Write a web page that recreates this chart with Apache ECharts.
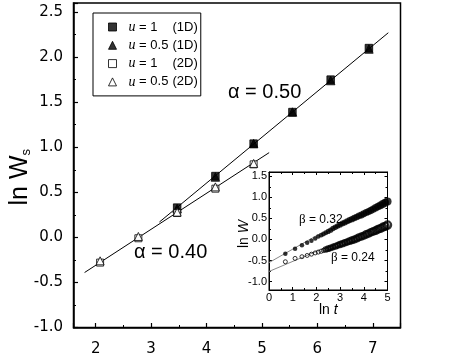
<!DOCTYPE html>
<html><head><meta charset="utf-8">
<script src="https://cdn.jsdelivr.net/npm/echarts@6/dist/echarts.min.js"></script>
<style>html,body{margin:0;padding:0;background:#fff}#c{width:474px;height:356px}</style>
</head><body><div id="c"></div>
<script>
// ---- main panel data (ln L vs ln W_s) ----
const lnL1D = [3.47, 4.16, 4.85, 5.55, 6.24, 6.93];
const u1_1D = [0.33, 0.68, 1.04, 1.39, 1.75, 2.10];
const u05_1D = [0.32, 0.67, 1.04, 1.39, 1.74, 2.09];
const lnL2D = [2.08, 2.77, 3.47, 4.16, 4.85];
const u1_2D = [-0.28, -0.01, 0.27, 0.54, 0.81];
const u05_2D = [-0.26, 0.01, 0.28, 0.56, 0.82];
const fit050X = [3.15, 7.28];
const fit050Y = [0.17, 2.27];
const fit040X = [1.80, 5.13];
const fit040Y = [-0.39, 0.94];
const seriesNames = ['u = 1 (1D)', 'u = 0.5 (1D)', 'u = 1 (2D)', 'u = 0.5 (2D)'];
const mainXTicks = [2, 3, 4, 5, 6, 7];
const mainYTicks = [-1.0, -0.5, 0.0, 0.5, 1.0, 1.5, 2.0, 2.5];

// ---- inset data (ln t vs ln W) ----
const lnT = [0.69, 1.10, 1.39, 1.61, 1.79, 1.95, 2.08, 2.20, 2.30, 2.40, 2.50, 2.60, 2.70, 2.80, 2.90,
  3.00, 3.10, 3.20, 3.30, 3.40, 3.50, 3.60, 3.70, 3.80, 3.90, 4.00, 4.10, 4.20, 4.30, 4.40,
  4.50, 4.60, 4.70, 4.80, 4.90, 5.00];
const lnW1D = [-0.34, -0.22, -0.14, -0.08, -0.03, 0.02, 0.07, 0.10, 0.13, 0.16, 0.19, 0.22, 0.26, 0.29, 0.32,
  0.35, 0.38, 0.40, 0.43, 0.46, 0.48, 0.51, 0.53, 0.56, 0.58, 0.61, 0.64, 0.66, 0.69, 0.72,
  0.75, 0.78, 0.81, 0.84, 0.87, 0.90];
const lnW2D = [-0.53, -0.45, -0.41, -0.38, -0.35, -0.32, -0.30, -0.28, -0.26, -0.24, -0.22, -0.20, -0.18, -0.16, -0.14,
  -0.12, -0.10, -0.08, -0.06, -0.04, -0.02, 0.00, 0.02, 0.05, 0.07, 0.09, 0.12, 0.14, 0.17, 0.19,
  0.21, 0.24, 0.26, 0.29, 0.31, 0.34];
const fitB032X = [0, 2.1];
const fitB032Y = [-0.55, 0.12];
const fitB024X = [0, 2.1];
const fitB024Y = [-0.76, -0.26];

const SANS = '"Liberation Sans", Arial, sans-serif';
const SERIF = '"Liberation Serif", "Times New Roman", serif';
const TICKF = '"DejaVu Sans", sans-serif';
const pair = (xs, ys) => xs.map((x, i) => [x, ys[i]]);
const near = (v, list) => list.some(t => Math.abs(t - v) < 1e-6);

const chart = echarts.init(document.getElementById('c'), null, {renderer: 'canvas'});

const axisBase = (w) => ({
  type: 'value',
  nameMoveOverlap: false,
  axisLine: {show: true, onZero: false, lineStyle: {color: '#000', width: w}},
  splitLine: {show: false}
});

const legendRich = {
  u: {fontFamily: SERIF, fontStyle: 'italic', fontSize: 14, color: '#000', padding: [0, 0, 0, 7]},
  v: {fontFamily: SANS, fontSize: 13, color: '#000', width: 37},
  d: {fontFamily: SANS, fontSize: 13, color: '#000'}
};

const option = {
  animation: false,
  backgroundColor: '#fff',
  grid: [
    {left: 73.5, top: 3, width: 327, height: 324.5, show: true, borderColor: '#000', borderWidth: 1.5,
      backgroundColor: 'transparent', containLabel: false, outerBoundsMode: 'none'},
    {left: 269, top: 172, width: 118.5, height: 118, show: true, borderColor: '#000', borderWidth: 1,
      backgroundColor: '#fff', containLabel: false, outerBoundsMode: 'none'}
  ],
  legend: {
    data: seriesNames,
    orient: 'vertical', left: 93, top: 13,
    padding: [7, 3, 7, 15], itemGap: 4.3, itemWidth: 8, itemHeight: 8,
    borderColor: '#000', borderWidth: 1, backgroundColor: '#fff',
    selectedMode: false,
    itemStyle: {borderWidth: 1, borderColor: '#000'},
    textStyle: {fontFamily: SANS, fontSize: 13, color: '#000', rich: legendRich},
    formatter: name => {
      const m = name.match(/^u = ([\d.]+) \((\w+)\)$/);
      return '{u|u}{v| = ' + m[1] + '}{d|(' + m[2] + ')}';
    }
  },
  xAxis: [
    Object.assign(axisBase(1.5), {
      gridIndex: 0, min: 1.6, max: 7.5, splitNumber: 5,
      axisTick: {show: true, inside: true, length: 4.5, lineStyle: {color: '#000', width: 1.2}},
      minorTick: {show: true, splitNumber: 2, length: 2.5, lineStyle: {color: '#000', width: 1}},
      axisLabel: {formatter: v => near(v, mainXTicks) ? String(Math.round(v)) : '', fontFamily: TICKF, fontSize: 15, color: '#000', margin: 14}
    }),
    Object.assign(axisBase(1), {
      gridIndex: 1, min: 0, max: 5, interval: 1,
      axisTick: {show: true, inside: true, length: 3, lineStyle: {color: '#000', width: 1}},
      minorTick: {show: true, splitNumber: 2, length: 2, lineStyle: {color: '#000', width: 1}},
      axisLabel: {fontFamily: SANS, fontSize: 11, color: '#000', margin: 2},
      name: '{a|ln }{b|t}', nameLocation: 'middle', nameGap: 13,
      nameTextStyle: {rich: {a: {fontFamily: SANS, fontSize: 14, color: '#000'}, b: {fontFamily: SANS, fontStyle: 'italic', fontSize: 14, color: '#000'}}}
    }),
    Object.assign(axisBase(1), {
      gridIndex: 1, position: 'top', min: 0, max: 5, interval: 1,
      axisTick: {show: true, inside: true, length: 3, lineStyle: {color: '#000', width: 1}},
      minorTick: {show: true, splitNumber: 2, length: 2, lineStyle: {color: '#000', width: 1}},
      axisLabel: {show: false}
    })
  ],
  yAxis: [
    Object.assign(axisBase(1.5), {
      gridIndex: 0, min: -1.0, max: 2.6, interval: 0.5,
      axisTick: {show: true, inside: true, length: 4.5, lineStyle: {color: '#000', width: 1.2}},
      minorTick: {show: true, splitNumber: 2, length: 2.5, lineStyle: {color: '#000', width: 1}},
      axisLabel: {formatter: v => near(v, mainYTicks) ? v.toFixed(1) : '', fontFamily: TICKF, fontSize: 15, color: '#000', margin: 10.5},
      name: '{a|ln W}{s|s}', nameLocation: 'middle', nameRotate: 90, nameGap: 41,
      nameTextStyle: {padding: [0, 24, 0, 0], rich: {
        a: {fontFamily: SANS, fontSize: 25, color: '#000'},
        s: {fontFamily: SANS, fontSize: 13, color: '#000', verticalAlign: 'bottom'}
      }}
    }),
    Object.assign(axisBase(1), {
      gridIndex: 1, min: -1.2, max: 1.6, splitNumber: 6,
      axisTick: {show: true, inside: true, length: 3, lineStyle: {color: '#000', width: 1}},
      minorTick: {show: true, splitNumber: 2, length: 2, lineStyle: {color: '#000', width: 1}},
      axisLabel: {formatter: v => (Math.abs(v * 2 - Math.round(v * 2)) < 1e-6 ? v.toFixed(1) : ''), fontFamily: SANS, fontSize: 11, color: '#000', margin: 2},
      name: '{a|ln }{b|W}', nameLocation: 'middle', nameRotate: 90, nameGap: 18,
      nameTextStyle: {padding: [0, 6, 0, 0], rich: {a: {fontFamily: SANS, fontSize: 14, color: '#000'}, b: {fontFamily: SANS, fontStyle: 'italic', fontSize: 14, color: '#000'}}}
    }),
    Object.assign(axisBase(1), {
      gridIndex: 1, position: 'right', min: -1.2, max: 1.6, splitNumber: 6,
      axisTick: {show: true, inside: true, length: 3, lineStyle: {color: '#000', width: 1}},
      minorTick: {show: true, splitNumber: 2, length: 2, lineStyle: {color: '#000', width: 1}},
      axisLabel: {show: false}
    })
  ],
  series: [
    {type: 'line', xAxisIndex: 0, yAxisIndex: 0, data: pair(fit050X, fit050Y), showSymbol: false, silent: true, z: 1,
      lineStyle: {color: '#000', width: 1}},
    {type: 'line', xAxisIndex: 0, yAxisIndex: 0, data: pair(fit040X, fit040Y), showSymbol: false, silent: true, z: 1,
      lineStyle: {color: '#000', width: 1}},
    {name: seriesNames[0], type: 'scatter', xAxisIndex: 0, yAxisIndex: 0, data: pair(lnL1D, u1_1D), symbol: 'rect', symbolSize: 7.5,
      itemStyle: {color: '#000', borderColor: '#000', borderWidth: 1}, z: 3},
    {name: seriesNames[1], type: 'scatter', xAxisIndex: 0, yAxisIndex: 0, data: pair(lnL1D, u05_1D), symbol: 'triangle', symbolSize: 8.5,
      itemStyle: {color: '#000', borderColor: '#000', borderWidth: 1}, z: 3},
    {name: seriesNames[2], type: 'scatter', xAxisIndex: 0, yAxisIndex: 0, data: pair(lnL2D, u1_2D), symbol: 'rect', symbolSize: 7,
      itemStyle: {color: '#fff', borderColor: '#000', borderWidth: 1}, z: 3},
    {name: seriesNames[3], type: 'scatter', xAxisIndex: 0, yAxisIndex: 0, data: pair(lnL2D, u05_2D), symbol: 'triangle', symbolSize: 8,
      itemStyle: {color: '#fff', borderColor: '#000', borderWidth: 1}, z: 3},
    // inset
    {type: 'line', xAxisIndex: 1, yAxisIndex: 1, data: pair(fitB032X, fitB032Y), showSymbol: false, silent: true, z: 4,
      lineStyle: {color: '#888', width: 1}},
    {type: 'line', xAxisIndex: 1, yAxisIndex: 1, data: pair(fitB024X, fitB024Y), showSymbol: false, silent: true, z: 4,
      lineStyle: {color: '#888', width: 1}},
    {type: 'scatter', xAxisIndex: 1, yAxisIndex: 1, data: pair(lnT, lnW1D), symbol: 'circle',
      symbolSize: v => v[0] < 2 ? 4.5 : 4.5 + (v[0] - 2) * 1.2,
      itemStyle: {color: '#000'}, z: 5},
    {type: 'scatter', xAxisIndex: 1, yAxisIndex: 1, symbol: 'circle',
      data: pair(lnT, lnW2D).map(p => ({value: p, itemStyle: {borderWidth: p[0] < 2.4 ? 1 : 2.2}})),
      symbolSize: v => v[0] < 2 ? 4 : 4 + (v[0] - 2) * 1.1,
      itemStyle: {color: 'rgba(0,0,0,0)', borderColor: '#000', borderWidth: 1}, z: 5}
  ],
  graphic: [
    {type: 'text', z: 10, style: {x: 228, y: 92, text: 'α = 0.50', font: '20px ' + SANS, fill: '#000', verticalAlign: 'middle'}},
    {type: 'text', z: 10, style: {x: 134, y: 252, text: 'α = 0.40', font: '20px ' + SANS, fill: '#000', verticalAlign: 'middle'}},
    {type: 'text', z: 10, style: {x: 299, y: 220, text: '{b|β} = 0.32', fontFamily: SANS, fontSize: 12, fill: '#000', verticalAlign: 'middle',
      rich: {b: {fontFamily: SERIF, fontSize: 13}}}},
    {type: 'text', z: 10, style: {x: 331, y: 258, text: '{b|β} = 0.24', fontFamily: SANS, fontSize: 12, fill: '#000', verticalAlign: 'middle',
      rich: {b: {fontFamily: SERIF, fontSize: 13}}}}
  ]
};
chart.setOption(option);
</script></body></html>
